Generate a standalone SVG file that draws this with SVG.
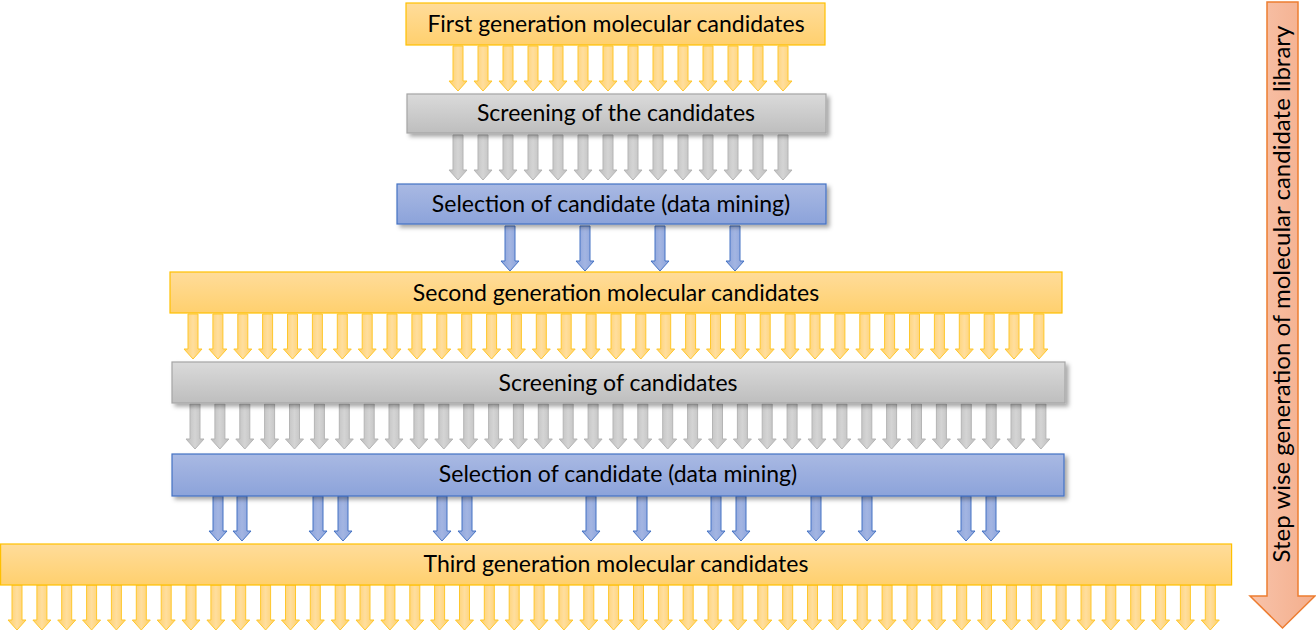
<svg xmlns="http://www.w3.org/2000/svg" xmlns:xlink="http://www.w3.org/1999/xlink" width="1316" height="632" viewBox="0 0 1316 632">
<style>
.t{font-family:Lato,"Open Sans","Liberation Sans",sans-serif;font-size:23px;fill:#000;text-anchor:middle}
.yb{fill:url(#gY);stroke:#FFC000;stroke-width:1.2}
.gb{fill:url(#gG);stroke:#A5A5A5;stroke-width:1.2;filter:url(#sh)}
.bb{fill:url(#gB);stroke:#4472C4;stroke-width:1.2;filter:url(#sh)}
</style>
<defs>
<linearGradient id="gY" x1="0" y1="0" x2="0" y2="1"><stop offset="0" stop-color="#FFDC9A"/><stop offset="1" stop-color="#FFD06E"/></linearGradient>
<linearGradient id="gG" x1="0" y1="0" x2="0" y2="1"><stop offset="0" stop-color="#DADADA"/><stop offset="1" stop-color="#BEBEBE"/></linearGradient>
<linearGradient id="gB" x1="0" y1="0" x2="0" y2="1"><stop offset="0" stop-color="#A9B9E3"/><stop offset="1" stop-color="#8CA3DA"/></linearGradient>
<linearGradient id="gYa" x1="0" y1="0" x2="1" y2="0"><stop offset="0" stop-color="#FFCF66"/><stop offset="0.5" stop-color="#FFDE9E"/><stop offset="1" stop-color="#FFCF66"/></linearGradient>
<linearGradient id="gGa" x1="0" y1="0" x2="1" y2="0"><stop offset="0" stop-color="#BDBDBD"/><stop offset="0.5" stop-color="#D4D4D4"/><stop offset="1" stop-color="#BDBDBD"/></linearGradient>
<linearGradient id="gBa" x1="0" y1="0" x2="1" y2="0"><stop offset="0" stop-color="#8AA2DA"/><stop offset="0.5" stop-color="#A3B5E2"/><stop offset="1" stop-color="#8AA2DA"/></linearGradient>
<linearGradient id="gO" x1="0" y1="0" x2="1" y2="0"><stop offset="0" stop-color="#F8C3AA"/><stop offset="1" stop-color="#F4AE8C"/></linearGradient>
<filter id="sh" x="-5%" y="-30%" width="110%" height="170%"><feDropShadow dx="3" dy="3" stdDeviation="2" flood-color="#000" flood-opacity="0.35"/></filter>
<path id="aY" d="M-5,0 H5 V35 H9 L0,45 L-9,35 H-5 Z" fill="url(#gYa)" stroke="#FFC72C" stroke-width="1"/>
<path id="aG" d="M-5,0 H5 V35 H9 L0,45 L-9,35 H-5 Z" fill="url(#gGa)" stroke="#B5B5B5" stroke-width="1"/>
<path id="aB" d="M-5,0 H5 V35 H9 L0,45 L-9,35 H-5 Z" fill="url(#gBa)" stroke="#4472C4" stroke-width="1"/>
</defs>

<g id="connectors">
<g id="row1" transform="translate(0,46)">
<use href="#aY" x="458"/><use href="#aY" x="483"/><use href="#aY" x="508"/><use href="#aY" x="533"/><use href="#aY" x="558"/><use href="#aY" x="583"/><use href="#aY" x="608"/><use href="#aY" x="633"/><use href="#aY" x="658"/><use href="#aY" x="683"/><use href="#aY" x="708"/><use href="#aY" x="733"/><use href="#aY" x="758"/><use href="#aY" x="783"/>
</g>
<g id="row2" transform="translate(0,135)">
<use href="#aG" x="458"/><use href="#aG" x="483"/><use href="#aG" x="508"/><use href="#aG" x="533"/><use href="#aG" x="558"/><use href="#aG" x="583"/><use href="#aG" x="608"/><use href="#aG" x="633"/><use href="#aG" x="658"/><use href="#aG" x="683"/><use href="#aG" x="708"/><use href="#aG" x="733"/><use href="#aG" x="758"/><use href="#aG" x="783"/>
</g>
<g id="row3" transform="translate(0,226)">
<use href="#aB" x="510"/><use href="#aB" x="585"/><use href="#aB" x="660"/><use href="#aB" x="735"/>
</g>
<g id="row4" transform="translate(0,314)">
<use href="#aY" x="193"/><use href="#aY" x="217.9"/><use href="#aY" x="242.8"/><use href="#aY" x="267.6"/><use href="#aY" x="292.5"/><use href="#aY" x="317.4"/><use href="#aY" x="342.3"/><use href="#aY" x="367.2"/><use href="#aY" x="392"/><use href="#aY" x="416.9"/><use href="#aY" x="441.8"/><use href="#aY" x="466.7"/><use href="#aY" x="491.6"/><use href="#aY" x="516.4"/><use href="#aY" x="541.3"/><use href="#aY" x="566.2"/><use href="#aY" x="591.1"/><use href="#aY" x="616"/><use href="#aY" x="640.8"/><use href="#aY" x="665.7"/><use href="#aY" x="690.6"/><use href="#aY" x="715.5"/><use href="#aY" x="740.4"/><use href="#aY" x="765.2"/><use href="#aY" x="790.1"/><use href="#aY" x="815"/><use href="#aY" x="839.9"/><use href="#aY" x="864.8"/><use href="#aY" x="889.6"/><use href="#aY" x="914.5"/><use href="#aY" x="939.4"/><use href="#aY" x="964.3"/><use href="#aY" x="989.2"/><use href="#aY" x="1014"/><use href="#aY" x="1038.9"/>
</g>
<g id="row5" transform="translate(2,404)">
<use href="#aG" x="193"/><use href="#aG" x="217.9"/><use href="#aG" x="242.8"/><use href="#aG" x="267.6"/><use href="#aG" x="292.5"/><use href="#aG" x="317.4"/><use href="#aG" x="342.3"/><use href="#aG" x="367.2"/><use href="#aG" x="392"/><use href="#aG" x="416.9"/><use href="#aG" x="441.8"/><use href="#aG" x="466.7"/><use href="#aG" x="491.6"/><use href="#aG" x="516.4"/><use href="#aG" x="541.3"/><use href="#aG" x="566.2"/><use href="#aG" x="591.1"/><use href="#aG" x="616"/><use href="#aG" x="640.8"/><use href="#aG" x="665.7"/><use href="#aG" x="690.6"/><use href="#aG" x="715.5"/><use href="#aG" x="740.4"/><use href="#aG" x="765.2"/><use href="#aG" x="790.1"/><use href="#aG" x="815"/><use href="#aG" x="839.9"/><use href="#aG" x="864.8"/><use href="#aG" x="889.6"/><use href="#aG" x="914.5"/><use href="#aG" x="939.4"/><use href="#aG" x="964.3"/><use href="#aG" x="989.2"/><use href="#aG" x="1014"/><use href="#aG" x="1038.9"/>
</g>
<g id="row6" transform="translate(0,496)">
<use href="#aB" x="218"/><use href="#aB" x="242"/><use href="#aB" x="318"/><use href="#aB" x="343"/><use href="#aB" x="442"/><use href="#aB" x="467"/><use href="#aB" x="591"/><use href="#aB" x="642"/><use href="#aB" x="716"/><use href="#aB" x="741"/><use href="#aB" x="816"/><use href="#aB" x="867"/><use href="#aB" x="966"/><use href="#aB" x="991"/>
</g>
<g id="row7" transform="translate(0,585)">
<use href="#aY" x="17"/><use href="#aY" x="41.9"/><use href="#aY" x="66.7"/><use href="#aY" x="91.6"/><use href="#aY" x="116.4"/><use href="#aY" x="141.3"/><use href="#aY" x="166.2"/><use href="#aY" x="191"/><use href="#aY" x="215.9"/><use href="#aY" x="240.7"/><use href="#aY" x="265.6"/><use href="#aY" x="290.5"/><use href="#aY" x="315.3"/><use href="#aY" x="340.2"/><use href="#aY" x="365"/><use href="#aY" x="389.9"/><use href="#aY" x="414.8"/><use href="#aY" x="439.6"/><use href="#aY" x="464.5"/><use href="#aY" x="489.3"/><use href="#aY" x="514.2"/><use href="#aY" x="539.1"/><use href="#aY" x="563.9"/><use href="#aY" x="588.8"/><use href="#aY" x="613.6"/><use href="#aY" x="638.5"/><use href="#aY" x="663.4"/><use href="#aY" x="688.2"/><use href="#aY" x="713.1"/><use href="#aY" x="737.9"/><use href="#aY" x="762.8"/><use href="#aY" x="787.7"/><use href="#aY" x="812.5"/><use href="#aY" x="837.4"/><use href="#aY" x="862.2"/><use href="#aY" x="887.1"/><use href="#aY" x="912"/><use href="#aY" x="936.8"/><use href="#aY" x="961.7"/><use href="#aY" x="986.5"/><use href="#aY" x="1011.4"/><use href="#aY" x="1036.3"/><use href="#aY" x="1061.1"/><use href="#aY" x="1086"/><use href="#aY" x="1110.8"/><use href="#aY" x="1135.7"/><use href="#aY" x="1160.6"/><use href="#aY" x="1185.4"/><use href="#aY" x="1210.3"/>
</g>
</g>

<g id="first-gen">
<rect class="yb" x="406" y="3" width="419" height="42"/>
<text class="t" x="616" y="32">First generation molecular candidates</text>
</g>
<g id="screening-1">
<rect class="gb" x="407" y="94" width="419" height="39"/>
<text class="t" x="616" y="121">Screening of the candidates</text>
</g>
<g id="selection-1">
<rect class="bb" x="397" y="184" width="429" height="40"/>
<text class="t" x="611" y="212">Selection of candidate (data mining)</text>
</g>
<g id="second-gen">
<rect class="yb" x="170" y="272" width="892" height="41"/>
<text class="t" x="616" y="301">Second generation molecular candidates</text>
</g>
<g id="screening-2">
<rect class="gb" x="172" y="362" width="893" height="41"/>
<text class="t" x="618" y="391">Screening of candidates</text>
</g>
<g id="selection-2">
<rect class="bb" x="172" y="454" width="892" height="42"/>
<text class="t" x="618" y="482">Selection of candidate (data mining)</text>
</g>
<g id="third-gen">
<rect class="yb" x="0.6" y="544" width="1231" height="41"/>
<text class="t" x="616" y="572">Third generation molecular candidates</text>
</g>
<g id="stepwise-arrow">
<path d="M1267,2 H1298 V596 H1315 L1282.5,628 L1250,596 H1267 Z" fill="url(#gO)" stroke="#ED7D31" stroke-width="1.5"/>
<text class="t" style="font-size:24px" transform="translate(1290,294) rotate(-90)">Step wise generation of molecular candidate library</text>
</g>
</svg>
